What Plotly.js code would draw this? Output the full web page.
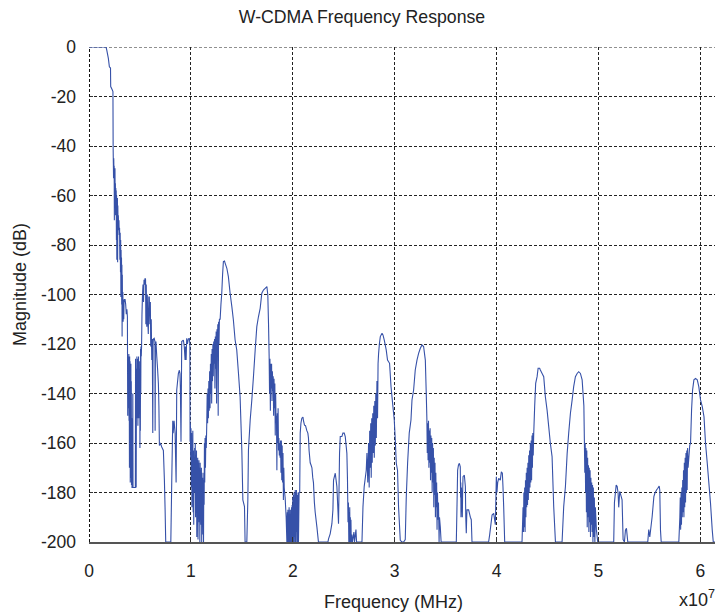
<!DOCTYPE html>
<html>
<head>
<meta charset="utf-8">
<script src="https://cdn.plot.ly/plotly-3.0.1.min.js"></script>
<style>
  html, body { margin: 0; padding: 0; background: #fff; }
  #chart { width: 724px; height: 615px; }
</style>
</head>
<body>
<div id="chart"></div>
<script>
// Frequency response samples: [frequency (x1e7 Hz), magnitude (dB)]

// passband and main-lobe roll-off
const mainLobe = [
  [0,0],[0.167,0],[0.174,-1.2],[0.190,-4.6],[0.200,-8],[0.211,-8.5],[0.213,-16],[0.229,-17.4],[0.235,-18],[0.237,-41],
  [0.239,-47],[0.241,-53],[0.243,-45],[0.245,-52],[0.247,-48],[0.249,-70],[0.251,-51],[0.253,-56],[0.255,-49],[0.257,-64],
  [0.259,-55],[0.261,-68],[0.263,-57],[0.265,-61],[0.267,-58],[0.269,-78],[0.271,-60],[0.273,-86],[0.275,-62],[0.277,-70],
  [0.279,-61],[0.281,-87],[0.283,-64],[0.285,-72],[0.288,-68],[0.291,-74],[0.294,-70],[0.297,-76],[0.300,-73],[0.303,-86],
  [0.306,-75],[0.309,-91],[0.311,-78],[0.313,-101],[0.315,-82],[0.317,-96],[0.319,-85],[0.321,-104],[0.323,-88],[0.325,-117],
  [0.327,-92],[0.329,-106],[0.332,-99],[0.335,-111],[0.338,-102],[0.341,-110],[0.344,-103],[0.348,-102],[0.354,-102],[0.360,-104],
  [0.366,-108],[0.372,-106],[0.377,-109],[0.380,-149],[0.382,-125]
];

// first sidelobe region around 0.5e7
const sideLobe1 = [
  [0.385,-140],[0.387,-126],[0.389,-146],[0.391,-124],[0.393,-151],[0.395,-128],[0.397,-170],[0.399,-125],[0.401,-160],[0.403,-127],
  [0.405,-176],[0.407,-130],[0.409,-166],[0.411,-128],[0.413,-174],[0.415,-135],[0.417,-177],[0.419,-150],[0.422,-178],[0.428,-178],
  [0.430,-140],[0.432,-178],[0.440,-178],[0.448,-178],[0.455,-178],[0.457,-126],[0.459,-150],[0.461,-140],[0.463,-178],[0.466,-130],
  [0.468,-148],[0.470,-125],[0.472,-150],[0.474,-127],[0.476,-140],[0.478,-126],[0.480,-153],[0.482,-128],[0.484,-145],[0.486,-125],
  [0.488,-150],[0.490,-128],[0.492,-142],[0.494,-127],[0.496,-146],[0.498,-130],[0.500,-162],[0.502,-135],[0.504,-155],[0.506,-122],
  [0.508,-140],[0.510,-121],[0.513,-125],[0.516,-121],
  [0.520,-108],[0.525,-100],[0.530,-96],[0.535,-103],[0.540,-94],[0.545,-96],[0.550,-93.4],[0.555,-94],[0.558,-112],[0.562,-96],
  [0.567,-113],[0.572,-100],[0.577,-111],[0.582,-116],[0.587,-101],[0.592,-101],[0.597,-112],[0.602,-103],[0.606,-121],[0.611,-110],
  [0.616,-126.5],[0.621,-118],[0.626,-156],[0.629,-120],[0.632,-118],[0.640,-117.7],[0.647,-119],[0.649,-155],[0.652,-120],[0.657,-119],
  [0.665,-125],[0.673,-130],[0.681,-136],[0.686,-145],[0.691,-161],[0.700,-160],[0.714,-161.6],[0.730,-163],[0.740,-175],[0.747,-187],
  [0.753,-200]
];

// ripple just below 1e7
const sideLobe2 = [
  [0.803,-200],[0.812,-176],[0.822,-151],[0.826,-156],[0.835,-151],[0.845,-156],[0.855,-176],[0.861,-138.6],[0.877,-132],[0.887,-130.6],
  [0.893,-132],[0.897,-138],[0.903,-159.5],[0.910,-119],[0.926,-118.4],[0.935,-121],[0.943,-126.5],[0.947,-121],[0.953,-126.5],[0.959,-117.7],
  [0.966,-120],[0.975,-118],[0.985,-117.7],[0.990,-120],[0.992,-159.5],
  [0.995,-152],[0.998,-166],[1.001,-154],[1.004,-178],[1.007,-156],[1.010,-186],[1.013,-160],[1.016,-172],[1.019,-155],[1.022,-188],
  [1.025,-163],[1.028,-193],[1.031,-166],[1.034,-180],[1.037,-162],[1.040,-175],[1.043,-160],[1.046,-190],[1.049,-165],[1.052,-176],
  [1.055,-163],[1.058,-198],[1.061,-167],[1.064,-185],[1.067,-166],[1.070,-199],[1.073,-168],[1.076,-189],[1.079,-167],[1.082,-192],
  [1.085,-170],[1.088,-200],[1.091,-168],[1.094,-186],[1.097,-171],[1.100,-193],[1.103,-170],[1.106,-200],[1.109,-172],[1.112,-190],
  [1.115,-174],[1.118,-197],[1.121,-175],[1.124,-200],[1.127,-172],[1.130,-185],[1.133,-160],[1.136,-176],[1.139,-158],[1.143,-170],
  [1.147,-157],[1.151,-162],[1.156,-152]
];

// images near 1.34e7 and 1.75e7
const image1 = [
  [1.160,-140],[1.164,-152],[1.168,-138],[1.172,-150],[1.176,-135],[1.180,-147],[1.184,-131],[1.188,-146],[1.192,-128],[1.196,-140],
  [1.200,-124],[1.204,-144],[1.208,-122],[1.212,-135],[1.216,-120],[1.220,-133],[1.224,-119],[1.228,-128],[1.232,-118],[1.236,-138],
  [1.240,-117],[1.244,-130],[1.248,-115],[1.252,-144],[1.256,-114],[1.260,-125],[1.264,-112],[1.268,-149],[1.272,-111],[1.276,-120],
  [1.280,-110],[1.287,-110],[1.295,-104],[1.303,-99.5],[1.311,-92],[1.319,-86.7],[1.330,-86.5],[1.336,-87.3],[1.353,-89.4],[1.368,-92.8],
  [1.385,-99.5],[1.402,-104.9],[1.417,-110.3],[1.434,-118.4],[1.450,-122.4],[1.467,-131.8],[1.483,-141.3],[1.500,-162.8],[1.510,-183],[1.526,-185.7],
  [1.532,-200],[1.549,-200],[1.559,-183],[1.565,-162.8],[1.582,-150.7],[1.598,-142.6],[1.614,-133.2],[1.631,-122.4],[1.647,-113],[1.663,-109],
  [1.680,-105.6],[1.696,-99.5],[1.712,-98.2],[1.729,-97.5],[1.746,-96.8],[1.755,-100.2],[1.762,-112],
  [1.768,-125],[1.772,-140],[1.776,-126],[1.780,-147],[1.784,-128],[1.788,-138],[1.792,-128],[1.796,-143],[1.800,-131],[1.804,-139],
  [1.808,-133],[1.812,-149],[1.816,-134],[1.820,-146],[1.824,-136],[1.828,-157],[1.832,-140],[1.836,-152],[1.840,-149],[1.844,-171],
  [1.848,-148],[1.852,-160],[1.856,-146],[1.860,-163],[1.864,-158],[1.868,-165],[1.872,-160],[1.876,-166],[1.880,-159],[1.884,-172],
  [1.888,-159],[1.892,-175],[1.896,-161],[1.900,-176],[1.904,-164],[1.908,-183],[1.912,-170],[1.916,-178],[1.920,-180],[1.925,-182],
  [1.935,-190],[1.942,-200]
];

// floor region around 2e7
const floor2 = [
  [1.946,-188],[1.949,-200],[1.952,-187],[1.955,-200],[1.958,-190],[1.961,-200],[1.964,-186],[1.967,-200],[1.970,-192],[1.973,-200],
  [1.976,-187],[1.979,-200],[1.982,-189],[1.985,-200],[1.988,-186],[1.991,-200],[1.994,-185],[1.997,-200],[2.000,-182],[2.003,-200],
  [2.006,-181],[2.009,-200],[2.012,-180],[2.015,-198],[2.018,-182],[2.021,-200],[2.024,-179],[2.027,-200],[2.030,-180],[2.033,-196],
  [2.036,-179],[2.040,-200],[2.044,-181],[2.048,-200],[2.052,-180],[2.056,-200],[2.062,-180],[2.068,-180],[2.073,-156],[2.080,-152],
  [2.089,-150],[2.100,-149.5],[2.105,-151],[2.115,-152.8],[2.125,-153],[2.138,-155],[2.148,-156],[2.154,-158],[2.160,-163],[2.171,-168],
  [2.180,-169],[2.188,-170],[2.196,-174],[2.203,-176],[2.212,-184],[2.220,-188],[2.237,-194],[2.252,-200],
  [2.345,-200],[2.351,-198.7],[2.367,-196.7],[2.384,-192.6],[2.394,-187],[2.400,-175],[2.417,-172.2],[2.433,-177.6],[2.449,-192.6],[2.459,-164.2],
  [2.466,-157.4],[2.482,-157.4],[2.492,-156],[2.505,-156],[2.515,-157.4],[2.531,-164.2],[2.537,-175],[2.542,-192],[2.546,-184],[2.550,-200],
  [2.553,-188],[2.556,-200],[2.559,-186],[2.562,-200],[2.565,-190],[2.568,-200],[2.571,-191],[2.574,-200],[2.580,-197],[2.586,-200],
  [2.600,-196],[2.606,-200],[2.620,-195],[2.626,-200]
];

// images near 2.88e7 and 3.27e7
const image2 = [
  [2.679,-200],[2.689,-185.7],[2.701,-177.6],[2.721,-171],[2.728,-164],[2.736,-176],[2.744,-160],[2.750,-178],[2.755,-155],[2.760,-170],
  [2.765,-152],[2.770,-174],[2.775,-150],[2.780,-168],[2.785,-148],[2.790,-164],[2.795,-145],[2.800,-166],[2.805,-143],[2.810,-161],
  [2.815,-140],[2.820,-158],[2.826,-135],[2.832,-150],[2.837,-128],[2.842,-124],[2.850,-120],[2.859,-117],[2.876,-115.7],[2.886,-116.4],
  [2.898,-118.4],[2.917,-122.4],[2.930,-126.5],[2.950,-127.8],[2.964,-137.2],[2.983,-145.3],[2.996,-150.7],[3.006,-158.8],[3.016,-168.2],[3.028,-171],
  [3.038,-185.7],[3.055,-199.3],[3.072,-200],[3.088,-200],[3.104,-199],[3.114,-181.7],[3.127,-168.2],[3.143,-156],[3.160,-150.7],[3.170,-142.6],
  [3.186,-138.6],[3.202,-130.5],[3.219,-126.5],[3.235,-123.8],[3.251,-121.8],[3.268,-120.4],[3.284,-121],[3.301,-126.5],[3.310,-140],[3.316,-150],
  [3.320,-164],[3.324,-152],[3.328,-167],[3.332,-151],[3.336,-170],[3.340,-155],[3.344,-168],[3.348,-154],[3.352,-175],[3.356,-157],
  [3.360,-172],[3.364,-158],[3.368,-180],[3.372,-160],[3.376,-176],[3.380,-162],[3.384,-186],[3.388,-166],[3.392,-181],[3.396,-168],
  [3.400,-190],[3.404,-172],[3.408,-186],[3.412,-176],[3.416,-195],[3.420,-180],[3.425,-191],[3.430,-184],[3.436,-200],[3.440,-190],
  [3.448,-194],[3.456,-200]
];

// small ripples near 3.7e7 and 4e7
const ripple3 = [
  [3.605,-200],[3.612,-185],[3.618,-171],[3.626,-169],[3.635,-168.2],[3.644,-169.6],[3.647,-182],[3.649,-176],[3.651,-190],[3.655,-178],
  [3.660,-183],[3.664,-190],[3.667,-180],[3.671,-173.6],[3.684,-173],[3.694,-177.6],[3.698,-190],[3.703,-196.5],[3.707,-190],[3.710,-187],
  [3.726,-187],[3.743,-190],[3.752,-191],[3.759,-200],
  [3.922,-200],[3.932,-197.2],[3.956,-189.1],[3.972,-188.4],[3.988,-193],[3.998,-173.6],[4.004,-180],[4.011,-176],[4.021,-174.3],[4.037,-175],
  [4.047,-171.6],[4.057,-172.2],[4.063,-177.6],[4.070,-185.7],[4.080,-200]
];

// images near 4.43e7 and 4.81e7
const image3 = [
  [4.250,-200],[4.260,-186],[4.264,-196],[4.268,-180],[4.272,-194],[4.276,-178],[4.280,-196],[4.284,-175],[4.288,-190],[4.292,-172],
  [4.296,-186],[4.300,-170],[4.304,-185],[4.308,-168],[4.312,-183],[4.316,-165],[4.320,-180],[4.324,-163],[4.328,-178],[4.332,-160],
  [4.336,-176],[4.340,-159],[4.344,-175],[4.348,-157],[4.352,-170],[4.356,-156],[4.360,-165],[4.365,-156],[4.374,-145.3],[4.384,-135.9],
  [4.398,-133.2],[4.408,-129.8],[4.423,-129.8],[4.430,-130.5],[4.447,-131.9],[4.463,-133.2],[4.479,-141.3],[4.496,-146.7],[4.512,-153.4],[4.528,-160.1],
  [4.545,-165.5],[4.561,-185.7],[4.578,-200],
  [4.643,-200],[4.659,-185.7],[4.676,-177.6],[4.693,-164.2],[4.708,-156],[4.725,-148],[4.742,-142.6],[4.757,-137.2],[4.774,-133.2],[4.791,-131.9],
  [4.806,-131.2],[4.823,-131.9],[4.840,-134.5],[4.857,-145],[4.862,-159],[4.866,-172],[4.870,-160],[4.874,-180],[4.878,-162],[4.882,-188],
  [4.886,-163],[4.890,-194],[4.894,-166],[4.898,-190],[4.902,-169],[4.906,-196],[4.910,-170],[4.914,-192],[4.918,-171],[4.922,-198],
  [4.926,-174],[4.930,-193],[4.934,-176],[4.938,-196],[4.942,-177],[4.946,-200],[4.950,-178],[4.954,-198],[4.960,-182],[4.965,-200],
  [4.970,-186],[4.980,-195],[4.993,-200]
];

// small ripples near 5.2e7 and 5.55e7
const ripple4 = [
  [5.150,-200],[5.157,-184],[5.174,-177],[5.184,-177.6],[5.193,-180.3],[5.199,-186],[5.209,-179.6],[5.223,-181.6],[5.232,-183],[5.242,-199],
  [5.255,-200],[5.265,-195.2],[5.275,-194.5],[5.288,-200],
  [5.484,-200],[5.494,-195],[5.504,-198],[5.527,-189.8],[5.544,-181.7],[5.554,-180.3],[5.570,-179],[5.583,-178.3],[5.596,-177.4],[5.602,-179],
  [5.609,-195.2],[5.616,-200]
];

// image near 5.95e7
const image4 = [
  [5.789,-200],[5.799,-190],[5.803,-182],[5.807,-195],[5.811,-180],[5.815,-193],[5.819,-178],[5.823,-190],[5.827,-175],[5.831,-188],
  [5.835,-171],[5.839,-190],[5.843,-168],[5.847,-186],[5.851,-166],[5.855,-184],[5.859,-164],[5.863,-180],[5.867,-163],[5.871,-179],
  [5.875,-162],[5.880,-170],[5.888,-165.5],[5.896,-161],[5.904,-160.1],[5.914,-146.7],[5.924,-138.6],[5.937,-134.5],[5.953,-133.9],[5.970,-134.5],
  [5.985,-137.2],[6.002,-142.6],[6.019,-145.3],[6.036,-149.4],[6.051,-160.1],[6.068,-168.2],[6.084,-176.3],[6.100,-184.4],[6.117,-195.2],[6.127,-200],
  [6.144,-200]
];

const xTicks = [0, 1, 2, 3, 4, 5, 6];
const yTicks = [0, -20, -40, -60, -80, -100, -120, -140, -160, -180, -200];
const xRange = [0, 6.144];
const yRange = [-200, 0];

const response = [mainLobe, sideLobe1, sideLobe2, image1, floor2, image2, ripple3, image3, ripple4, image4].flat();

const trace = {
  type: 'scatter',
  mode: 'lines',
  x: response.map(p => p[0]),
  y: response.map(p => p[1]),
  line: { color: '#3651a8', width: 1.1, simplify: false },
  hoverinfo: 'skip'
};

const W = 724, H = 615;
const L = 89, R = 9, T = 47, B = 73;
const pw = W - L - R, ph = H - T - B;
const gridDash = '3px,2px';

const layout = {
  width: W, height: H,
  margin: { l: L, r: R, t: T, b: B, pad: 0 },
  paper_bgcolor: '#ffffff',
  plot_bgcolor: '#ffffff',
  showlegend: false,
  font: { family: '"Liberation Sans", Arial, sans-serif', size: 17.5, color: '#222' },
  title: {
    text: 'W-CDMA Frequency Response',
    x: 0.5, xref: 'container', xanchor: 'center',
    y: 1 - 17 / H, yref: 'container', yanchor: 'middle',
    font: { size: 17.7, color: '#222' }
  },
  xaxis: {
    range: xRange,
    tickvals: xTicks,
    ticktext: xTicks.map(String),
    ticks: 'inside', ticklen: 5, tickwidth: 1, tickcolor: '#333',
    ticklabelstandoff: 12,
    tickfont: { size: 17.5 },
    showgrid: true, gridcolor: '#222', gridwidth: 1, griddash: gridDash,
    zeroline: false,
    showline: true, linecolor: '#555', linewidth: 1.5,
    fixedrange: true
  },
  yaxis: {
    range: yRange,
    tickvals: yTicks,
    ticktext: yTicks.map(String),
    ticks: 'inside', ticklen: 4, tickwidth: 1, tickcolor: '#333',
    ticklabelstandoff: 12,
    tickfont: { size: 17.5 },
    showgrid: true, gridcolor: '#222', gridwidth: 1, griddash: gridDash,
    zeroline: false,
    showline: false,
    fixedrange: true
  },
  shapes: [
    // left edge at x = 0 and top edge at 0 dB, drawn like the grid
    { type: 'line', xref: 'x', yref: 'y', x0: xRange[0], x1: xRange[0], y0: yRange[0], y1: yRange[1],
      line: { color: '#111', width: 2, dash: gridDash }, layer: 'above' },
    { type: 'line', xref: 'x', yref: 'y', x0: xRange[0], x1: xRange[1], y0: yRange[1], y1: yRange[1],
      line: { color: '#222', width: 1, dash: gridDash }, layer: 'below' }
  ],
  annotations: [
    {
      text: 'Frequency (MHz)', showarrow: false,
      xref: 'paper', yref: 'paper',
      x: (393 - L) / pw, y: (H - B - 602) / ph,
      xanchor: 'center', yanchor: 'middle',
      font: { size: 18 }
    },
    {
      text: 'x10<sup>7</sup>', showarrow: false,
      xref: 'paper', yref: 'paper',
      x: (717 - L) / pw, y: (H - B - 598) / ph,
      xanchor: 'right', yanchor: 'middle',
      font: { size: 18 }
    },
    {
      text: 'Magnitude (dB)', showarrow: false, textangle: -90,
      xref: 'paper', yref: 'paper',
      x: (20 - L) / pw, y: (H - B - 285) / ph,
      xanchor: 'center', yanchor: 'middle',
      font: { size: 18 }
    }
  ]
};

Plotly.newPlot('chart', [trace], layout, { staticPlot: true, displayModeBar: false });
</script>
</body>
</html>
